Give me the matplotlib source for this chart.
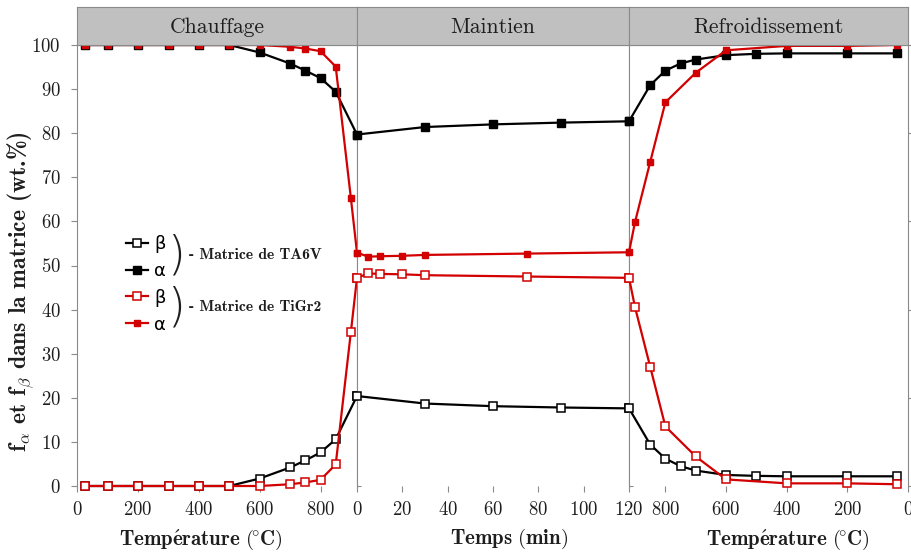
import matplotlib.pyplot as plt
from matplotlib.lines import Line2D

# ---- Chauffage (heating, °C) ----
T_heat_ta6v = [25, 100, 200, 300, 400, 500, 600, 700, 750, 800, 850, 920]
ta6v_beta_heat = [0, 0, 0, 0, 0, 0, 1.7, 4.2, 5.8, 7.6, 10.6, 20.4]
ta6v_alpha_heat = [100, 100, 100, 100, 100, 100, 98.3, 95.8, 94.2, 92.5, 89.4, 79.7]
T_heat_tigr2 = [25, 100, 200, 300, 400, 500, 600, 700, 750, 800, 850, 900, 920]
tigr2_beta_heat = [0, 0, 0, 0, 0, 0, 0, 0.4, 0.8, 1.4, 4.9, 35.0, 47.2]
tigr2_alpha_heat = [100, 100, 100, 100, 100, 100, 100, 99.6, 99.2, 98.6, 95.1, 65.2, 52.9]

# ---- Maintien (hold, min) ----
t_hold_ta6v = [0, 30, 60, 90, 120]
ta6v_beta_hold = [20.4, 18.7, 18.1, 17.8, 17.6]
ta6v_alpha_hold = [79.7, 81.4, 82.0, 82.4, 82.7]
t_hold_tigr2 = [0, 5, 10, 20, 30, 75, 120]
tigr2_beta_hold = [47.2, 48.2, 48.1, 48.0, 47.8, 47.5, 47.2]
tigr2_alpha_hold = [52.9, 52.0, 52.1, 52.2, 52.4, 52.7, 53.0]

# ---- Refroidissement (cooling, °C) ----
T_cool_ta6v = [920, 850, 800, 750, 700, 600, 500, 400, 200, 35]
ta6v_beta_cool = [17.6, 9.4, 6.2, 4.5, 3.5, 2.5, 2.3, 2.2, 2.2, 2.2]
ta6v_alpha_cool = [82.7, 90.9, 94.2, 95.8, 96.7, 97.7, 98.0, 98.1, 98.1, 98.1]
T_cool_tigr2 = [920, 900, 850, 800, 700, 600, 400, 200, 35]
tigr2_beta_cool = [47.2, 40.5, 27.0, 13.5, 6.7, 1.5, 0.6, 0.6, 0.4]
tigr2_alpha_cool = [53.0, 59.9, 73.5, 87.0, 93.7, 98.8, 99.8, 99.8, 100]

titles = ["Chauffage", "Maintien", "Refroidissement"]
temp_label = r"$\mathbf{Temp\'erature\ (\!^{\circ}C)}$"
xlabels = [temp_label, r"$\mathbf{Temps\ (min)}$", temp_label]
xlims = [(0, 920), (0, 120), (920, 0)]
xticks = [[0, 200, 400, 600, 800], [0, 20, 40, 60, 80, 100, 120], [800, 600, 400, 200, 0]]
xlabel_pos = [0.442, 0.559, 0.570]

RED = "#d20000"
GRAY = "#8a8a8a"
TXT = "#1e1e1e"
SERIF = ["cmr10", "DejaVu Serif"]
BOLD = ["cmb10", "DejaVu Serif"]

plt.rcParams["font.family"] = SERIF
plt.rcParams["mathtext.fontset"] = "cm"
plt.rcParams["axes.formatter.use_mathtext"] = True

fig = plt.figure(figsize=(9.12, 5.55), dpi=100)
gs = fig.add_gridspec(1, 3, width_ratios=[279.7, 272, 279], wspace=0,
                      left=77.3 / 912, right=908 / 912,
                      bottom=1 - 486 / 555, top=1 - 45 / 555)
axes = [fig.add_subplot(gs[0, i]) for i in range(3)]

panels = [
    (T_heat_ta6v, ta6v_beta_heat, ta6v_alpha_heat, T_heat_tigr2, tigr2_beta_heat, tigr2_alpha_heat),
    (t_hold_ta6v, ta6v_beta_hold, ta6v_alpha_hold, t_hold_tigr2, tigr2_beta_hold, tigr2_alpha_hold),
    (T_cool_ta6v, ta6v_beta_cool, ta6v_alpha_cool, T_cool_tigr2, tigr2_beta_cool, tigr2_alpha_cool),
]

for i, (ax, (xa, ba, aa, xb, bb, ab)) in enumerate(zip(axes, panels)):
    kw = dict(lw=1.6, marker="s", clip_on=False)
    ax.plot(xa, ba, color="black", mfc="white", mec="black", ms=5.5, mew=1.1, zorder=3, **kw)
    ax.plot(xa, aa, color="black", mfc="black", mec="black", ms=5.5, zorder=3, **kw)
    ax.plot(xb, bb, color=RED, mfc="white", mec=RED, ms=5.5, mew=1.1, zorder=4, **kw)
    ax.plot(xb, ab, color=RED, mfc=RED, mec=RED, ms=3.8, zorder=4, **kw)

    ax.set_xlim(*xlims[i])
    ax.set_ylim(0, 100)
    ax.set_xticks(xticks[i])
    ax.tick_params(axis="x", direction="out", length=4, width=0.8, color=GRAY,
                   labelsize=13.5, labelcolor=TXT, pad=7)
    ax.spines["bottom"].set_visible(False)
    for s in ("left", "right", "top"):
        ax.spines[s].set_color(GRAY)
        ax.spines[s].set_linewidth(0.8)
    ax.set_xlabel(xlabels[i], fontsize=15, color=TXT)
    ax.xaxis.set_label_coords(xlabel_pos[i], -0.093)

    if i == 0:
        ax.set_yticks(range(0, 101, 10))
        ax.tick_params(axis="y", direction="out", length=4, width=0.8, color=GRAY,
                       labelsize=13.5, labelcolor=TXT, pad=8)
    else:
        ax.set_yticks([])
    sec = ax.secondary_yaxis("right")
    sec.set_yticks(range(0, 101, 20))
    sec.tick_params(direction="out", length=3, width=0.8, color=GRAY, labelright=False)
    sec.spines["right"].set_visible(False)

    pos = ax.get_position()
    hax = fig.add_axes([pos.x0, pos.y1, pos.width, 38 / 555])
    hax.set_facecolor("#c0c0c0")
    hax.set_xticks([])
    hax.set_yticks([])
    for s in hax.spines.values():
        s.set_color(GRAY)
        s.set_linewidth(0.8)
    hax.text(0.5, 0.47, titles[i], ha="center", va="center", fontsize=15.5,
             color=TXT, transform=hax.transAxes)

ax0 = axes[0]
ax0.set_ylabel(r"$\mathbf{f}_{\alpha}$ et $\mathbf{f}_{\beta}$ dans la matrice (wt.%)",
               fontsize=17, family=BOLD, fontweight="bold", color=TXT)
ax0.yaxis.set_label_coords(-0.148, 0.44)

# legend
handles = [
    Line2D([], [], color="black", marker="s", mfc="white", mec="black", ms=5.5, mew=1.1, lw=1.6),
    Line2D([], [], color="black", marker="s", mfc="black", ms=5.5, lw=1.6),
    Line2D([], [], color=RED, marker="s", mfc="white", mec=RED, ms=5.5, mew=1.1, lw=1.6),
    Line2D([], [], color=RED, marker="s", mfc=RED, ms=3.8, lw=1.6),
]
ax0.legend(handles, ["β", "α", "β", "α"], loc="upper left", bbox_to_anchor=(0.174, 0.569),
           frameon=False, prop={"family": "DejaVu Sans", "size": 13}, handlelength=1.2,
           handletextpad=0.35, labelspacing=0.49, borderpad=0, borderaxespad=0)
for yc, name in [(0.522, "TA6V"), (0.404, "TiGr2")]:
    ax0.text(0.353, yc, ")", transform=ax0.transAxes, ha="center", va="center",
             fontsize=33, family="DejaVu Sans", fontweight="light", color=TXT)
    ax0.text(0.40, yc + 0.002, "- Matrice de " + name, transform=ax0.transAxes,
             ha="left", va="center", fontsize=11.3, family=BOLD, fontweight="bold", color=TXT)

fig.savefig("out.png", dpi=100)
